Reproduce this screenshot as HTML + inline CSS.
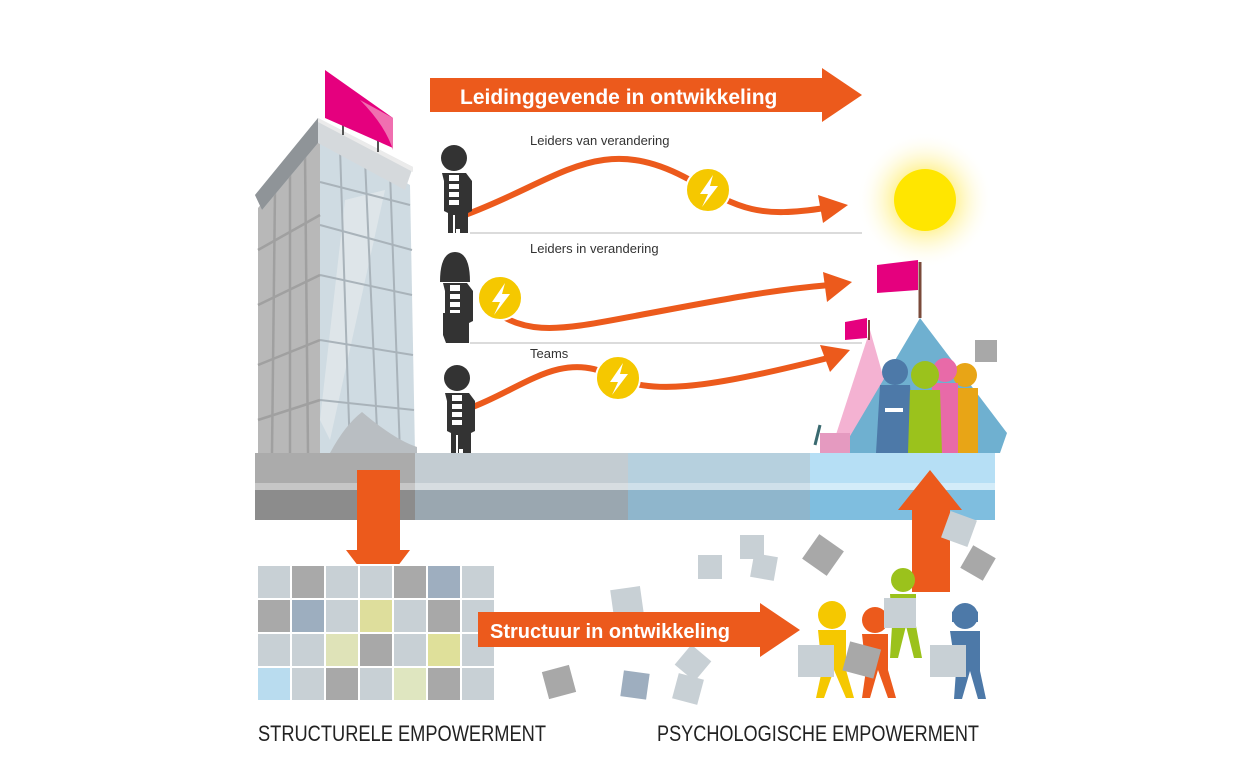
<!DOCTYPE html>
<html><head><meta charset="utf-8"><style>
html,body{margin:0;padding:0;background:#fff;width:1252px;height:780px;overflow:hidden}
svg{display:block}
text{font-family:"Liberation Sans",sans-serif}
</style></head><body>
<svg width="1252" height="780" viewBox="0 0 1252 780" xmlns="http://www.w3.org/2000/svg">
<defs>
<radialGradient id="glow"><stop offset="0.45" stop-color="#fff3a0"/><stop offset="1" stop-color="#fff" stop-opacity="0"/></radialGradient>
<g id="man"><circle cx="0" cy="-75" r="13"/><path d="M-12,-60 h24 l6,8 v30 l-4,2 v20 h-8 v-4 h-4 v4 h-8 v-20 l-4,-2 v-30 z"/><rect x="-5" y="-58" width="10" height="30" fill="#fff"/><rect x="-5" y="-52" width="10" height="3"/><rect x="-5" y="-44" width="10" height="3"/><rect x="-5" y="-36" width="10" height="3"/><rect x="-1" y="-18" width="2" height="18" fill="#fff"/></g>
</defs>

<polygon points="430,78 822,78 822,68 862,95 822,122 822,112 430,112" fill="#ec5a1c"/>
<text x="460" y="104" font-size="21" font-weight="bold" fill="#fff">Leidinggevende in ontwikkeling</text>

<circle cx="925" cy="200" r="68" fill="url(#glow)"/>
<circle cx="925" cy="200" r="31" fill="#ffe600"/>

<line x1="470" y1="233" x2="862" y2="233" stroke="#cfcfcf" stroke-width="1.5"/>
<line x1="470" y1="343" x2="862" y2="343" stroke="#cfcfcf" stroke-width="1.5"/>
<text x="530" y="145" font-size="13" fill="#333">Leiders van verandering</text>
<text x="530" y="253" font-size="13" fill="#333">Leiders in verandering</text>
<text x="530" y="358" font-size="13" fill="#333">Teams</text>

<g fill="none" stroke="#ec5a1c" stroke-width="6">
<path d="M465,215 C560,180 600,130 690,180 C740,210 760,218 825,208"/>
<path d="M480,298 C520,340 560,330 640,315 C720,300 770,290 830,285"/>
<path d="M470,408 C520,390 560,350 610,375 C650,395 700,390 828,358"/>
</g>
<polygon points="818,195 848,205 823,223" fill="#ec5a1c"/>
<polygon points="823,272 852,282 827,302" fill="#ec5a1c"/>
<polygon points="820,345 850,350 830,372" fill="#ec5a1c"/>
<g fill="#f5c800" stroke="#fff" stroke-width="2">
<circle cx="708" cy="190" r="22"/><circle cx="500" cy="298" r="22"/><circle cx="618" cy="378" r="22"/></g>
<g fill="#fff">
<polygon points="713,175 700,194 708,194 702,207 718,186 710,186"/>
<polygon points="505,283 492,302 500,302 494,315 510,294 502,294"/>
<polygon points="623,363 610,382 618,382 612,395 628,374 620,374"/>
</g>

<g fill="#333"><use href="#man" x="454" y="233"/><use href="#man" x="455" y="343"/><use href="#man" x="457" y="453"/></g>
<path d="M440,282 q0,-30 15,-30 q15,0 15,30 z" fill="#333"/>
<path d="M443,313 h24 v22 l-3,8 h-18 l-3,-8 z" fill="#333"/>

<!-- building -->
<polygon points="258,208 320,135 320,453 258,453" fill="#b8b8b8"/>
<polygon points="320,135 410,185 415,453 320,453" fill="#cfdbe2"/>
<polygon points="345,200 385,190 330,440 320,420" fill="#e4eaed" opacity="0.7"/>
<g stroke="#a0a0a0" stroke-width="2.5">
<line x1="258" y1="250" x2="320" y2="215"/><line x1="258" y1="305" x2="320" y2="275"/><line x1="258" y1="365" x2="320" y2="340"/><line x1="258" y1="420" x2="320" y2="400"/>
<line x1="275" y1="190" x2="272" y2="453"/><line x1="290" y1="172" x2="290" y2="453"/><line x1="305" y1="155" x2="308" y2="453"/>
</g>
<g stroke="#a9b3ba" stroke-width="2">
<line x1="320" y1="182" x2="410" y2="205"/><line x1="320" y1="225" x2="412" y2="250"/><line x1="320" y1="275" x2="412" y2="295"/><line x1="320" y1="340" x2="413" y2="355"/><line x1="320" y1="400" x2="414" y2="410"/>
<line x1="340" y1="148" x2="350" y2="453"/><line x1="365" y1="160" x2="378" y2="453"/><line x1="390" y1="172" x2="400" y2="453"/>
</g>
<path d="M330,453 Q345,425 362,412 Q395,440 417,447 L417,453 Z" fill="#b9bec2"/>
<polygon points="255,195 318,118 413,167 405,190 318,143 262,210" fill="#d5d9dc"/>
<polygon points="255,195 318,118 318,143 262,210" fill="#8f9498"/>
<polygon points="318,118 413,167 413,172 318,122" fill="#ebebeb"/>
<line x1="343" y1="120" x2="343" y2="135" stroke="#555" stroke-width="2"/>
<line x1="378" y1="140" x2="378" y2="152" stroke="#555" stroke-width="2"/>
<polygon points="325,70 393,118 393,148 325,118" fill="#e5007e"/>
<path d="M360,100 Q385,125 393,150 L393,118 Z" fill="#f06fb0"/>

<rect x="255" y="453" width="160" height="30" fill="#ababab"/><rect x="255" y="483" width="160" height="7" fill="#c6c6c6"/><rect x="255" y="490" width="160" height="30" fill="#8c8c8c"/>
<rect x="415" y="453" width="213" height="30" fill="#c3ccd2"/><rect x="415" y="483" width="213" height="7" fill="#d7dde1"/><rect x="415" y="490" width="213" height="30" fill="#9aa7b0"/>
<rect x="628" y="453" width="182" height="30" fill="#b6d0de"/><rect x="628" y="483" width="182" height="7" fill="#cfe0ea"/><rect x="628" y="490" width="182" height="30" fill="#8fb6cc"/>
<rect x="810" y="453" width="185" height="30" fill="#b6dff5"/><rect x="810" y="483" width="185" height="7" fill="#d3ecf9"/><rect x="810" y="490" width="185" height="30" fill="#7fbedf"/>

<polygon points="830,453 870,330 905,453" fill="#f4b2d2"/>
<line x1="869" y1="320" x2="869" y2="340" stroke="#7a4a3a" stroke-width="2"/>
<polygon points="845,322 867,318 867,338 845,340" fill="#e5007e"/>
<polygon points="840,453 920,318 1007,433 1000,453" fill="#6fb0d0"/>
<line x1="920" y1="262" x2="920" y2="318" stroke="#7a4a3a" stroke-width="3"/>
<polygon points="877,265 918,260 918,290 877,293" fill="#e5007e"/>
<rect x="820" y="433" width="30" height="20" fill="#e59ac0"/>
<line x1="815" y1="445" x2="820" y2="425" stroke="#3a6a70" stroke-width="3"/>
<rect x="975" y="340" width="22" height="22" fill="#a8a8a8"/>
<g>
<circle cx="895" cy="372" r="13" fill="#4d79a8"/><path d="M880,385 h30 l4,68 h-38 z" fill="#4d79a8"/><rect x="885" y="408" width="18" height="4" fill="#fff"/>
<circle cx="965" cy="375" r="12" fill="#e8a516"/><path d="M952,388 h26 l0,65 h-26 z" fill="#e8a516"/>
<circle cx="945" cy="370" r="12" fill="#e86aa8"/><path d="M932,383 h26 l0,70 h-26 z" fill="#e86aa8"/>
<circle cx="925" cy="375" r="14" fill="#9bc21c"/><path d="M910,390 h30 l2,63 h-34 z" fill="#9bc21c"/>
</g>

<polygon points="357,470 400,470 400,550 410,550 378,592 346,550 357,550" fill="#ec5a1c"/>
<polygon points="912,592 950,592 950,510 962,510 930,470 898,510 912,510" fill="#ec5a1c"/>

<g stroke="#fff" stroke-width="2">
<rect x="257" y="565" width="34" height="34" fill="#c8d0d5"/><rect x="291" y="565" width="34" height="34" fill="#a9a9a9"/><rect x="325" y="565" width="34" height="34" fill="#c8d0d5"/><rect x="359" y="565" width="34" height="34" fill="#c8d0d5"/><rect x="393" y="565" width="34" height="34" fill="#a9a9a9"/><rect x="427" y="565" width="34" height="34" fill="#9eaebf"/><rect x="461" y="565" width="34" height="34" fill="#c8d0d5"/>
<rect x="257" y="599" width="34" height="34" fill="#a9a9a9"/><rect x="291" y="599" width="34" height="34" fill="#9daebf"/><rect x="325" y="599" width="34" height="34" fill="#c8d0d5"/><rect x="359" y="599" width="34" height="34" fill="#dede9c"/><rect x="393" y="599" width="34" height="34" fill="#c8d0d5"/><rect x="427" y="599" width="34" height="34" fill="#a8a8a8"/><rect x="461" y="599" width="34" height="34" fill="#c8d0d5"/>
<rect x="257" y="633" width="34" height="34" fill="#c8d0d5"/><rect x="291" y="633" width="34" height="34" fill="#c8d0d5"/><rect x="325" y="633" width="34" height="34" fill="#dfe3b8"/><rect x="359" y="633" width="34" height="34" fill="#a8a8a8"/><rect x="393" y="633" width="34" height="34" fill="#c8d0d5"/><rect x="427" y="633" width="34" height="34" fill="#dfe09a"/><rect x="461" y="633" width="34" height="34" fill="#c8d0d5"/>
<rect x="257" y="667" width="34" height="34" fill="#b9dcef"/><rect x="291" y="667" width="34" height="34" fill="#c8d0d5"/><rect x="325" y="667" width="34" height="34" fill="#a8a8a8"/><rect x="359" y="667" width="34" height="34" fill="#c8d0d5"/><rect x="393" y="667" width="34" height="34" fill="#dfe6c0"/><rect x="427" y="667" width="34" height="34" fill="#a8a8a8"/><rect x="461" y="667" width="34" height="34" fill="#c8d0d5"/>
</g>

<g>
<rect x="698" y="555" width="24" height="24" fill="#c8d0d5"/>
<rect x="740" y="535" width="24" height="24" fill="#c8d0d5"/>
<rect x="752" y="555" width="24" height="24" fill="#c8d0d5" transform="rotate(10 764 567)"/>
<rect x="808" y="540" width="30" height="30" fill="#a8a8a8" transform="rotate(35 823 555)"/>
<rect x="612" y="588" width="30" height="28" fill="#c8d0d5" transform="rotate(-8 627 602)"/>
<rect x="545" y="668" width="28" height="28" fill="#a8a8a8" transform="rotate(-15 559 682)"/>
<rect x="622" y="672" width="26" height="26" fill="#9eaebf" transform="rotate(8 635 685)"/>
<rect x="680" y="650" width="26" height="26" fill="#c8d0d5" transform="rotate(40 693 663)"/>
<rect x="675" y="676" width="26" height="26" fill="#c8d0d5" transform="rotate(15 688 689)"/>
<rect x="945" y="515" width="28" height="28" fill="#c8d0d5" transform="rotate(20 959 529)"/>
<rect x="965" y="550" width="26" height="26" fill="#a8a8a8" transform="rotate(30 978 563)"/>
</g>

<polygon points="478,612 760,612 760,603 800,630 760,657 760,647 478,647" fill="#ec5a1c"/>
<text x="490" y="638" font-size="20" font-weight="bold" fill="#fff">Structuur in ontwikkeling</text>

<g>
<circle cx="832" cy="615" r="14" fill="#f5c800"/><path d="M818,630 h28 v40 l8,28 h-8 l-12,-28 l-10,28 h-8 l6,-28 z" fill="#f5c800"/><rect x="798" y="645" width="36" height="32" fill="#c8d0d5"/>
<circle cx="875" cy="620" r="13" fill="#ec5a1c"/><path d="M862,634 h26 v36 l8,28 h-8 l-10,-28 l-8,28 h-8 l4,-28 z" fill="#ec5a1c"/><rect x="846" y="645" width="32" height="30" fill="#a8a8a8" transform="rotate(15 862 659)"/>
<circle cx="903" cy="580" r="12" fill="#9bc21c"/><path d="M890,594 h26 v32 l6,32 h-8 l-8,-32 l-8,32 h-8 l2,-32 z" fill="#9bc21c"/><rect x="884" y="598" width="32" height="30" fill="#c8d0d5"/>
<circle cx="965" cy="616" r="13" fill="#4d79a8"/><path d="M952,612 q13,-14 26,0 v10 h-26 z" fill="#4d79a8"/><path d="M950,631 h30 v40 l6,28 h-8 l-8,-28 l-8,28 h-8 l2,-28 z" fill="#4d79a8"/><rect x="930" y="645" width="36" height="32" fill="#c8d0d5"/>
</g>

<text x="258" y="741" font-size="22" fill="#222" textLength="288" lengthAdjust="spacingAndGlyphs">STRUCTURELE EMPOWERMENT</text>
<text x="657" y="741" font-size="22" fill="#222" textLength="322" lengthAdjust="spacingAndGlyphs">PSYCHOLOGISCHE EMPOWERMENT</text>
</svg>
</body></html>
